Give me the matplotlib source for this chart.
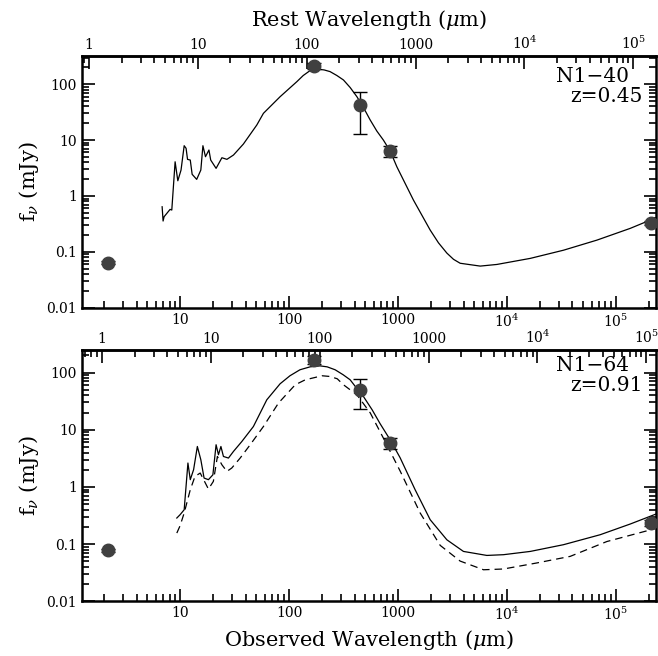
import numpy as np

import matplotlib
matplotlib.use('Agg')
import matplotlib.pyplot as plt
from matplotlib.ticker import FixedLocator, FixedFormatter, LogLocator, NullFormatter

plt.rcParams['font.family'] = 'DejaVu Serif'
plt.rcParams['mathtext.fontset'] = 'dejavuserif'

# ---- N1-40, z=0.45 ----
z1 = 0.45
wav1 = [6.84, 6.98, 7.13, 8.09, 8.39, 9.0, 9.53, 10.2, 10.9, 11.35, 11.7, 12.4, 12.9,
        14.2, 15.5, 16.2, 17.1, 18.4, 19.1, 21.4, 24.2, 26.9, 30.9, 38.1, 50.6, 58.2,
        82.8, 118, 135, 156, 170, 186, 210, 238, 275, 316, 364, 420, 482, 556, 640,
        735, 848, 977, 1387, 1977, 2355, 2812, 3236, 3724, 5690, 8096, 16400, 33100,
        67000, 135600, 238000]
flux1 = [0.641, 0.356, 0.425, 0.575, 0.56, 4.09, 1.87, 2.91, 7.93, 7.12, 4.52, 4.39, 2.44,
         1.98, 2.91, 7.93, 5.04, 6.64, 4.39, 3.12, 4.83, 4.52, 5.40, 8.49, 18.6, 30.1,
         59.7, 111, 143, 175, 182, 185, 180, 168, 143, 119, 87.3, 59.7, 38.3, 22.9, 14.5,
         10.0, 6.37, 3.33, 0.845, 0.245, 0.145, 0.095, 0.0735, 0.0625, 0.0556, 0.0595,
         0.0764, 0.107, 0.162, 0.263, 0.414]
obs_wav1 = [2.2, 170, 450, 850, 210000]
obs_flux1 = [0.064, 212, 42.5, 6.44, 0.33]
obs_err1 = [0.004, 23, 29.5, 1.4, 0.03]

# ---- N1-64, z=0.91 ----
z2 = 0.91
wav2 = [9.33, 10.0, 10.9, 11.8, 12.4, 13.3, 14.4, 15.5, 16.6, 18.2, 20.0, 21.4, 22.5,
        23.7, 25.0, 27.8, 30.9, 36.9, 47.1, 62.5, 82.8, 102, 126, 156, 193, 224, 265,
        314, 364, 422, 482, 579, 687, 848, 1047, 1438, 1977, 2812, 3992, 6546, 9300,
        16400, 33100, 71900, 136000, 238000]
flux2 = [0.286, 0.327, 0.399, 2.62, 1.34, 2.0, 5.1, 2.99, 1.43, 1.34, 1.63, 5.47, 3.66,
         5.1, 3.41, 3.2, 4.18, 6.24, 11.4, 33.4, 63.7, 88, 112, 126, 131, 126, 112,
         91.6, 74.8, 52, 38.2, 22.4, 12.7, 6.68, 3.24, 0.893, 0.267, 0.119, 0.0745,
         0.0634, 0.0653, 0.0745, 0.0977, 0.146, 0.225, 0.34]
wav2b = [9.33, 10.0, 10.9, 12.4, 13.7, 15.3, 18.2, 20.2, 22.0, 24.2, 26.9, 29.8, 35.6,
         44.0, 58.2, 80, 114, 141, 168, 201, 238, 277, 316, 364, 420, 556, 764, 1047,
         1600, 2443, 3724, 6100, 9300, 18800, 38100, 82800, 238000]
flux2b = [0.156, 0.21, 0.35, 0.893, 1.53, 1.75, 0.918, 1.25, 3.41, 2.44, 1.87, 2.14, 3.2,
          5.47, 11.4, 29.3, 61.2, 74.8, 81, 88, 85.5, 78, 61.2, 50, 40.9, 19.8, 6.2, 1.9,
          0.35, 0.095, 0.0505, 0.0356, 0.0367, 0.0468, 0.061, 0.111, 0.19]
obs_wav2 = [2.2, 170, 450, 850, 210000]
obs_flux2 = [0.078, 168, 50, 5.93, 0.237]
obs_err2 = [0.005, 25, 27, 1.3, 0.03]

names = ['N1\u221240', 'N1\u221264']
zlabels = ['z=0.45', 'z=0.91']

xlim = (1.25, 2.34e5)
tick_vals = [1, 10, 100, 1000, 1e4, 1e5]
tick_labs = ['1', '10', '100', '1000', r'$10^4$', r'$10^5$']


def style_axis(ax):
    ax.set_xscale('log')
    ax.set_yscale('log')
    ax.set_xlim(*xlim)
    ax.xaxis.set_major_locator(FixedLocator(tick_vals))
    ax.xaxis.set_major_formatter(FixedFormatter(tick_labs))
    ax.xaxis.set_minor_locator(LogLocator(base=10, subs=np.arange(2, 10)))
    ax.xaxis.set_minor_formatter(NullFormatter())
    ax.set_yticks([0.01, 0.1, 1, 10, 100])
    ax.set_yticklabels(['0.01', '0.1', '1', '10', '100'])
    ax.yaxis.set_minor_locator(LogLocator(base=10, subs=np.arange(2, 10)))
    ax.yaxis.set_minor_formatter(NullFormatter())
    ax.tick_params(which='both', direction='in', right=True, labelsize=10, width=1.2)
    ax.tick_params(which='major', length=9)
    ax.tick_params(which='minor', length=5)
    for s in ax.spines.values():
        s.set_linewidth(1.8)


def add_rest_axis(ax, z):
    sec = ax.secondary_xaxis('top', functions=(lambda x: x / (1 + z), lambda x: x * (1 + z)))
    sec.set_xscale('log')
    sec.xaxis.set_major_locator(FixedLocator(tick_vals))
    sec.xaxis.set_major_formatter(FixedFormatter(tick_labs))
    sec.xaxis.set_minor_locator(LogLocator(base=10, subs=np.arange(2, 10)))
    sec.xaxis.set_minor_formatter(NullFormatter())
    sec.tick_params(which='both', direction='in', labelsize=10, width=1.2, pad=3)
    sec.tick_params(which='major', length=9)
    sec.tick_params(which='minor', length=5)
    sec.spines['top'].set_linewidth(1.8)
    return sec


fig = plt.figure(figsize=(6.58, 6.56), dpi=100)
ax1 = fig.add_axes([0.1242, 0.5309, 0.8728, 0.3842])
ax2 = fig.add_axes([0.1242, 0.0834, 0.8728, 0.3835])

# top panel
ax1.plot(wav1, flux1, color='k', lw=0.9)
ax1.errorbar(obs_wav1, obs_flux1, yerr=obs_err1, fmt='o', color='#404040', ms=9,
             ecolor='k', elinewidth=1.0, capsize=5, capthick=1.0, zorder=3)
style_axis(ax1)
ax1.set_ylim(0.01, 10**2.51)
ax1.set_ylabel(r'f$_\nu$ (mJy)', fontsize=15)
sec1 = add_rest_axis(ax1, z1)
sec1.set_xlabel(r'Rest Wavelength ($\mu$m)', fontsize=15, labelpad=6)
ax1.text(0.953, 0.918, names[0], transform=ax1.transAxes, ha='right', va='center', fontsize=14.5)
ax1.text(0.976, 0.838, zlabels[0], transform=ax1.transAxes, ha='right', va='center', fontsize=14.5)

# bottom panel
ax2.plot(wav2, flux2, color='k', lw=0.9)
ax2.plot(wav2b, flux2b, color='k', lw=0.9, ls=(0, (6, 4)))
ax2.errorbar(obs_wav2, obs_flux2, yerr=obs_err2, fmt='o', color='#404040', ms=9,
             ecolor='k', elinewidth=1.0, capsize=5, capthick=1.0, zorder=3)
style_axis(ax2)
ax2.set_ylim(0.01, 10**2.40)
ax2.set_ylabel(r'f$_\nu$ (mJy)', fontsize=15)
ax2.set_xlabel(r'Observed Wavelength ($\mu$m)', fontsize=15, labelpad=3)
add_rest_axis(ax2, z2)
ax2.text(0.953, 0.936, names[1], transform=ax2.transAxes, ha='right', va='center', fontsize=14.5)
ax2.text(0.976, 0.856, zlabels[1], transform=ax2.transAxes, ha='right', va='center', fontsize=14.5)

plt.savefig('out.png', format='png', dpi=100)
